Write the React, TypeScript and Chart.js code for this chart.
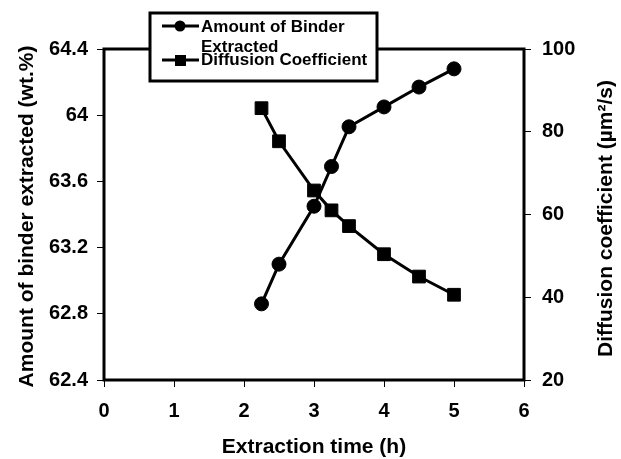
import React, { useEffect, useRef } from "react";
import { Chart, registerables } from "chart.js";

Chart.register(...registerables);

const extractionTime = [2.25, 2.5, 3, 3.25, 3.5, 4, 4.5, 5];
const binderExtracted = [62.86, 63.1, 63.45, 63.69, 63.93, 64.05, 64.17, 64.28];
const diffusionCoefficient = [85.7, 77.7, 65.8, 61.0, 57.2, 50.4, 45.0, 40.6];

const leftTickValues = [62.4, 62.8, 63.2, 63.6, 64.0, 64.4];
const leftTickLabels = ["62.4", "62.8", "63.2", "63.6", "64", "64.4"];
const rightTickValues = [20, 40, 60, 80, 100];
const xTickValues = [0, 1, 2, 3, 4, 5, 6];

const seriesNames = ["Amount of Binder Extracted", "Diffusion Coefficient"];
const legendLines = ["Amount of Binder", "Extracted", "Diffusion Coefficient"];

const xTitle = "Extraction time (h)";
const leftTitle = "Amount of binder extracted (wt.%)";
const rightTitle = "Diffusion coefficient (\u00b5m\u00b2/s)";

const FONT = "'Liberation Sans', Arial, sans-serif";

const decorPlugin = {
  id: "decor",
  afterDraw(chart: any) {
    const ctx = chart.ctx;
    const a = chart.chartArea;
    ctx.save();
    // frame
    ctx.strokeStyle = "#000";
    ctx.lineWidth = 3;
    ctx.strokeRect(a.left, a.top, a.right - a.left, a.bottom - a.top);

    // titles
    ctx.fillStyle = "#000";
    ctx.font = `bold 21px ${FONT}`;
    ctx.textAlign = "center";
    ctx.textBaseline = "middle";
    ctx.fillText(xTitle, (a.left + a.right) / 2, 447);
    const cy = (a.top + a.bottom) / 2;
    ctx.save();
    ctx.translate(27, cy + 2);
    ctx.rotate(-Math.PI / 2);
    ctx.fillText(leftTitle, 0, 0);
    ctx.restore();
    ctx.save();
    ctx.translate(606, cy + 4);
    ctx.rotate(-Math.PI / 2);
    ctx.fillText(rightTitle, 0, 0);
    ctx.restore();

    // legend box
    const lx = 150, ly = 13, lw = 227, lh = 68;
    ctx.fillStyle = "#fff";
    ctx.fillRect(lx, ly, lw, lh);
    ctx.lineWidth = 3;
    ctx.strokeStyle = "#000";
    ctx.strokeRect(lx, ly, lw, lh);

    ctx.lineWidth = 3;
    // circle marker line
    ctx.beginPath();
    ctx.moveTo(162, 26);
    ctx.lineTo(199, 26);
    ctx.stroke();
    ctx.fillStyle = "#000";
    ctx.beginPath();
    ctx.arc(180, 26, 5.5, 0, Math.PI * 2);
    ctx.fill();
    // square marker line
    ctx.beginPath();
    ctx.moveTo(162, 60);
    ctx.lineTo(199, 60);
    ctx.stroke();
    ctx.fillRect(175, 55, 11, 11);

    ctx.font = `bold 17px ${FONT}`;
    ctx.textAlign = "left";
    ctx.textBaseline = "alphabetic";
    ctx.fillText(legendLines[0], 201, 32);
    ctx.fillText(legendLines[1], 201, 52);
    ctx.fillText(legendLines[2], 201, 65);
    ctx.restore();
  },
};

export default function App() {
  const ref = useRef<HTMLCanvasElement | null>(null);

  useEffect(() => {
    if (!ref.current) return;
    const tickFont = { family: FONT, size: 20, weight: "bold" as const };
    const chart = new Chart(ref.current, {
      type: "line",
      data: {
        datasets: [
          {
            label: seriesNames[0],
            data: extractionTime.map((x, i) => ({ x, y: binderExtracted[i] })),
            yAxisID: "y",
            borderColor: "#000",
            backgroundColor: "#000",
            borderWidth: 3,
            pointStyle: "circle",
            pointRadius: 7,
            pointBorderWidth: 1,
            pointBackgroundColor: "#000",
            pointBorderColor: "#000",
            tension: 0,
          },
          {
            label: seriesNames[1],
            data: extractionTime.map((x, i) => ({ x, y: diffusionCoefficient[i] })),
            yAxisID: "y1",
            borderColor: "#000",
            backgroundColor: "#000",
            borderWidth: 3,
            pointStyle: "rect",
            pointRadius: 9,
            pointBorderWidth: 1,
            pointBackgroundColor: "#000",
            pointBorderColor: "#000",
            tension: 0,
          },
        ],
      },
      options: {
        responsive: false,
        animation: false,
        devicePixelRatio: 1,
        layout: { padding: { top: 49, left: 0, right: 0, bottom: 0 } },
        plugins: { legend: { display: false }, tooltip: { enabled: false } },
        scales: {
          x: {
            type: "linear",
            min: 0,
            max: 6,
            afterBuildTicks: (s: any) => {
              s.ticks = xTickValues.map((v) => ({ value: v }));
            },
            afterFit: (s: any) => {
              s.height = 79;
            },
            ticks: { font: tickFont, color: "#000", padding: 12, maxRotation: 0 },
            grid: { drawOnChartArea: false, tickLength: 7, color: "#000", lineWidth: 1 },
            border: { display: false },
          },
          y: {
            type: "linear",
            position: "left",
            min: 62.4,
            max: 64.4,
            afterBuildTicks: (s: any) => {
              s.ticks = leftTickValues.map((v) => ({ value: v }));
            },
            afterFit: (s: any) => {
              s.width = 104;
            },
            ticks: {
              font: tickFont,
              color: "#000",
              padding: 9,
              callback: (v: any) => {
                const i = leftTickValues.findIndex((t) => Math.abs(t - Number(v)) < 1e-6);
                return i >= 0 ? leftTickLabels[i] : "";
              },
            },
            grid: { drawOnChartArea: false, tickLength: 7, color: "#000", lineWidth: 1 },
            border: { display: false },
          },
          y1: {
            type: "linear",
            position: "right",
            min: 20,
            max: 100,
            afterBuildTicks: (s: any) => {
              s.ticks = rightTickValues.map((v) => ({ value: v }));
            },
            afterFit: (s: any) => {
              s.width = 97;
            },
            ticks: { font: tickFont, color: "#000", padding: 11 },
            grid: { drawOnChartArea: false, tickLength: 7, color: "#000", lineWidth: 1 },
            border: { display: false },
          },
        },
      },
      plugins: [decorPlugin],
    });
    return () => chart.destroy();
  }, []);

  return (
    <div style={{ position: "absolute", left: 0, top: 0, width: 621, height: 459, background: "#fff" }}>
      <canvas ref={ref} width={621} height={459} style={{ display: "block" }} />
    </div>
  );
}
